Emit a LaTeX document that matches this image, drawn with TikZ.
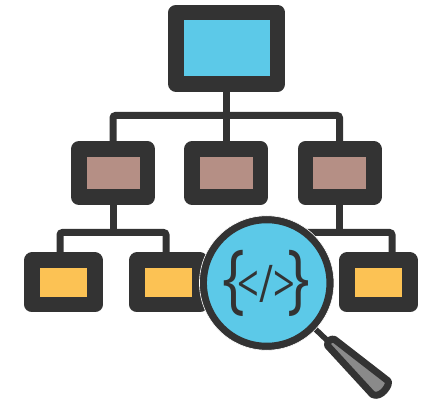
\documentclass[tikz,border=0pt]{standalone}
\usepackage{fontspec}
\setmainfont{Open Sans}
\begin{document}
\begin{tikzpicture}[x=1pt,y=-1pt,
  box/.style={draw=dark, line width=15.5pt, line join=round, inner sep=0pt},
  topbox/.style={box, fill=skyblue, minimum width=101.5pt, minimum height=71.5pt},
  midbox/.style={box, fill=brownred, minimum width=68.5pt, minimum height=48pt},
  lowbox/.style={box, fill=lightyellow, minimum width=63pt, minimum height=44.5pt},
  link/.style={draw=dark, line width=7pt, rounded corners=2.5pt},
  code/.style={text=dark, inner sep=0pt, font=\fontsize{40}{40}\selectfont}]
\definecolor{dark}{rgb}{0.2,0.2,0.2}
\definecolor{skyblue}{rgb}{0.36,0.79,0.91}
\definecolor{brownred}{rgb}{0.71,0.56,0.52}
\definecolor{lightyellow}{rgb}{0.99,0.76,0.33}
\definecolor{handlegray}{rgb}{0.54,0.54,0.54}
\useasboundingbox (0,0) rectangle (432,401);

\node[topbox] (top) at (226.75,48.25) {};
\node[midbox] (mid1) at (113,173) {};
\node[midbox] (mid2) at (226.25,173) {};
\node[midbox] (mid3) at (339.5,173) {};
\node[lowbox] (low1) at (63.5,282.5) {};
\node[lowbox] (low2) at (168.5,282.5) {};
\node[lowbox] (low3) at (378.5,282.5) {};

\coordinate (busl) at (60,232.5);
\coordinate (busm) at (166,232.5);
\coordinate (busr) at (392,232.5);
\coordinate (busc) at (288,232.5);
\coordinate (bust) at (226.75,115.5);

\path[link] (top.south) -- (top.south |- mid2.north);
\path[link] (mid1.north) |- (bust) -| (mid3.north);
\path[link] (mid1.south) -- (mid1.south |- busl);
\path[link] (mid3.south) -- (mid3.south |- busr);
\path[link] (low1.north -| busl) -- (busl) -- (busm) -- (low2.north -| busm);
\path[link] (low3.north -| busr) -- (busr) -- (busc);

\coordinate (neck) at (332,345);
\path[draw=dark, line width=5.5pt] (310,324) -- (neck);
\path[draw=dark, fill=handlegray, line width=7pt, line join=round]
  (334.6,339.5) -- (387.9,380.8) .. controls (391,384) and (381,399) .. (372.5,394.5)
  -- (327.5,345.5) .. controls (327,341) and (331,338) .. (334.6,339.5) -- cycle;

\node[circle, draw=dark, fill=skyblue, line width=7.5pt, minimum size=127pt, inner sep=0pt] (lens) at (266.7,283) {};
\node[circle, draw=white, line width=0.6pt, minimum size=134.5pt, inner sep=0pt] (halo) at (lens) {};

\node[code, yscale=1.9, xscale=1.5] (lb) at (234,283) {\{};
\node[code, yscale=1.9, xscale=1.5] (rb) at (299,283) {\}};
\node[code, xscale=0.95, yscale=1.3] (tag) at (266.5,284) {</>};
\end{tikzpicture}
\end{document}
